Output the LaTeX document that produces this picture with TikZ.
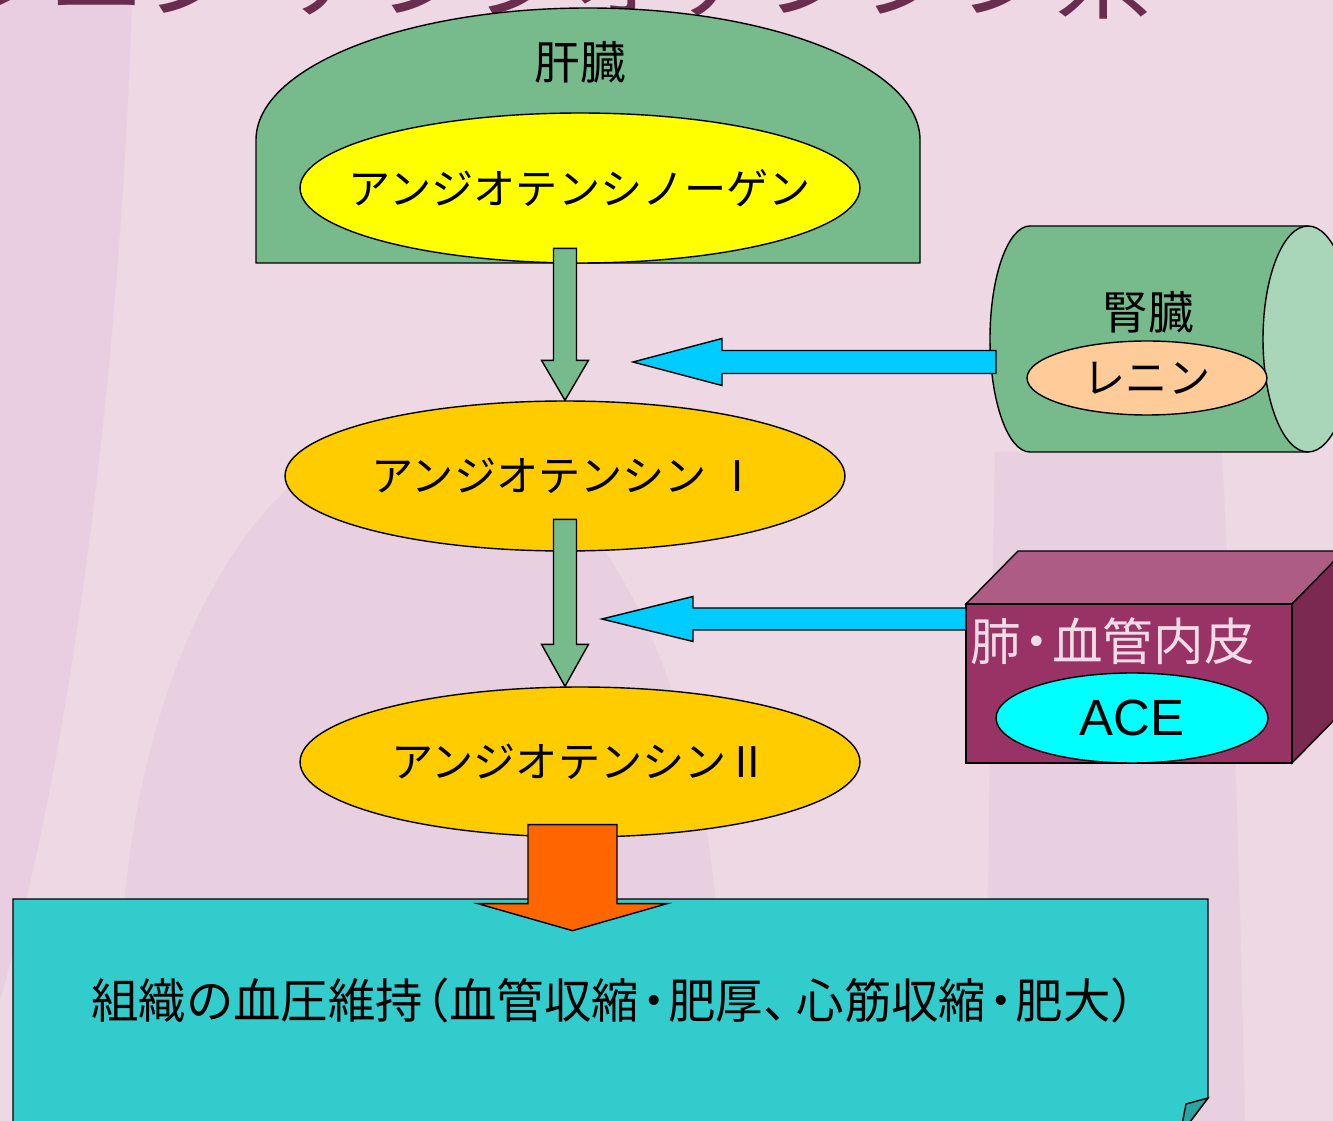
\documentclass[tikz,border=0pt]{standalone}
\usepackage{fontspec}
\setmainfont{Liberation Sans}
\newfontfamily\jp{Noto Sans CJK JP}
\usetikzlibrary{shapes.geometric,calc}
\definecolor{bgc}{HTML}{EDD8E4}
\definecolor{bgdark}{HTML}{E4C4DC}
\definecolor{titlec}{HTML}{6B2D4F}
\definecolor{liverc}{HTML}{77BB8C}
\definecolor{capc}{HTML}{A9D5B9}
\definecolor{yellowc}{HTML}{FFFF00}
\definecolor{goldc}{HTML}{FFCC00}
\definecolor{tealc}{HTML}{33CCCC}
\definecolor{foldc}{HTML}{2AA3A3}
\definecolor{orangec}{HTML}{FF6600}
\definecolor{bluec}{HTML}{00CCFF}
\definecolor{reninc}{HTML}{FFCC99}
\definecolor{lungfront}{HTML}{993366}
\definecolor{lungtop}{HTML}{AD5C85}
\definecolor{lungside}{HTML}{7B2951}
\definecolor{acec}{HTML}{00FFFF}
\definecolor{lungtext}{HTML}{F0DCE8}
\newcommand\nakadot{\makebox[0.62em][c]{・}}
\newcommand\lparen{\makebox[0.55em][r]{（}}
\newcommand\rparen{\makebox[0.55em][l]{）}}
\newcommand\touten{\makebox[0.7em][l]{、}}
\tikzset{
  outline/.style={draw=black, line width=0.8pt},
  jptext/.style={font=\jp\fontsize{24}{28}\selectfont},
  oval/.style={ellipse, outline, inner sep=0pt, minimum width=11.2cm, minimum height=3cm, jptext},
  greenarrow/.style={outline, fill=liverc},
  bluearrow/.style={outline, fill=bluec},
  orangearrow/.style={outline, fill=orangec},
}
\begin{document}
\begin{tikzpicture}[x=0.02cm, y=-0.02cm, line join=miter]
\useasboundingbox (0,0) rectangle (1333,1121);
\clip (0,0) rectangle (1333,1121);
% background
\fill[bgc] (0,0) rectangle (1333,1121);
\fill[bgdark, opacity=0.45] (0,0) -- (132,0) .. controls (120,380) and (70,760) .. (0,1000) -- cycle;
\fill[bgdark, opacity=0.4] (420,1000) ellipse [x radius=300, y radius=570];
\fill[bgdark, opacity=0.4] (995,452) -- (1222,452) .. controls (1235,700) and (1240,900) .. (1245,1121) -- (985,1121) .. controls (988,900) and (990,700) .. (995,452) -- cycle;
% title (cut off at the top)
\node[anchor=base east, inner sep=0pt, text=titlec, font=\jp\fontsize{55}{60}\selectfont] (title) at (1152,12) {レニン\makebox[0.45em][c]{・}アンジオテンシン系};
% liver
\draw[outline, fill=liverc] (256,263) -- (256,140) arc[start angle=180, end angle=360, x radius=332, y radius=132] -- (920,263) -- cycle;
\node[jptext, font=\jp\fontsize{26}{30}\selectfont] (liver) at (580,62) {肝臓};
\node[oval, fill=yellowc] (ago) at (580,188) {\makebox[0pt]{アンジオテンシノーゲン}};
% angiotensin I and arrow from angiotensinogen
\node[oval, fill=goldc] (ang1) at (565,476) {\makebox[0pt]{アンジオテンシン Ⅰ}};
\begin{scope}[shift={(ang1.north)}]
  \draw[greenarrow] (0,0) -- (-23.5,-40) -- (-11.5,-40) -- (-11.5,-152) -- (11.5,-152) -- (11.5,-40) -- (23.5,-40) -- cycle;
\end{scope}
\node[oval, fill=goldc] (ang2) at (580,762) {\makebox[0pt]{アンジオテンシンⅡ}};
\begin{scope}[shift={(ang1.south |- ang2.north)}]
  \draw[greenarrow] (0,0) -- (-23.5,-42) -- (-11.5,-42) -- (-11.5,-167) -- (11.5,-167) -- (11.5,-42) -- (23.5,-42) -- cycle;
\end{scope}
% kidney
\draw[outline, fill=liverc] (1308,226) -- (1030,226) arc[start angle=270, end angle=90, x radius=40, y radius=113] -- (1308,452) -- cycle;
\draw[outline, fill=capc] (1308,339) ellipse [x radius=45, y radius=113];
\node[font=\jp\fontsize{26}{30}\selectfont] (kidney) at (1148,312) {腎臓};
\node[ellipse, outline, fill=reninc, inner sep=0pt, minimum width=4.8cm, minimum height=1.48cm, jptext] (renin) at (1147,378) {\makebox[0pt]{レニン}};
\coordinate (kidneyside) at (996,362);
\coordinate (reninpoint) at (633,362);
\begin{scope}[shift={(reninpoint)}]
  \draw[bluearrow] (0,0) -- (89,-23.5) -- (89,-11.5) -- (363,-11.5) -- (363,11.5) -- (89,11.5) -- (89,23.5) -- cycle;
\end{scope}
% lung / endothelium cube
\draw[outline, fill=lungtop] (966,604) -- (1018,551) -- (1344,551) -- (1292,604) -- cycle;
\draw[outline, fill=lungside] (1292,604) -- (1344,551) -- (1344,710) -- (1292,763) -- cycle;
\draw[outline, fill=lungfront] (966,604) rectangle (1292,763);
\node[anchor=west, inner sep=0pt, text=lungtext, font=\jp\fontsize{28.8}{30}\selectfont] (lung) at (970,641) {肺\nakadot 血管内皮};
\node[ellipse, outline, fill=acec, inner sep=0pt, minimum width=5.44cm, minimum height=1.8cm, font=\fontsize{29}{32}\selectfont] (ace) at (1132,718) {\makebox[0pt]{ACE}};
\coordinate (lungside) at (966,619);
\coordinate (acepoint) at (602,619);
\begin{scope}[shift={(acepoint)}]
  \draw[bluearrow] (0,0) -- (91,-22.5) -- (91,-11) -- (364,-11) -- (364,11) -- (91,11) -- (91,22.5) -- cycle;
\end{scope}
% effect box
\draw[outline, fill=tealc] (13,899) -- (1208,899) -- (1208,1098) -- (1180,1135) -- (13,1135) -- cycle;
\draw[outline, fill=foldc] (1208,1098) -- (1186,1104) -- (1180,1135) -- cycle;
\node[jptext, font=\jp\fontsize{27}{30}\selectfont] (effect) at (614,1000) {組織の血圧維持\lparen 血管収縮\nakadot 肥厚\touten 心筋収縮\nakadot 肥大\rparen};
% orange arrow
\begin{scope}[shift={(ang2.south)}]
  \draw[orangearrow] (-7.5,93) -- (-102,66) -- (-52,66) -- (-52,-13) -- (37,-13) -- (37,66) -- (87,66) -- cycle;
\end{scope}
\end{tikzpicture}
\end{document}
